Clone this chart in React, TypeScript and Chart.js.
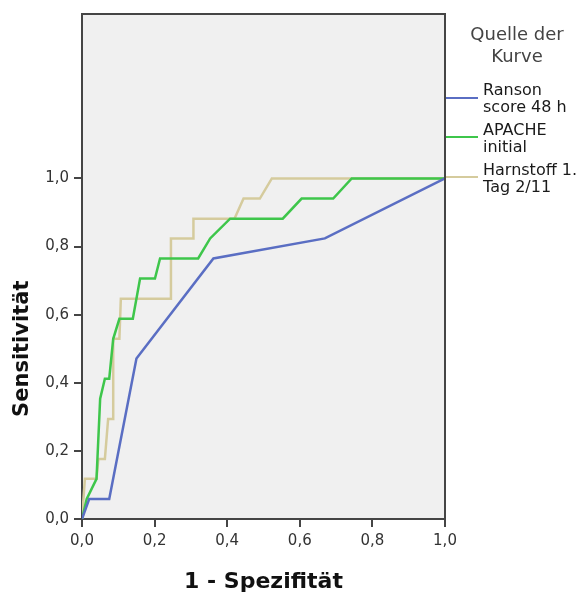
import React, { useEffect, useRef } from "react";
import { Chart, registerables } from "chart.js";

Chart.register(...registerables);

// ---- Data ----
const ransonX = [0, 0.02, 0.075, 0.15, 0.362, 0.669, 1.0];
const ransonY = [0, 0.059, 0.059, 0.471, 0.765, 0.824, 1.0];

const apacheX = [0, 0.013, 0.04, 0.05, 0.063, 0.075, 0.086, 0.103, 0.14, 0.16, 0.201, 0.215, 0.32, 0.353, 0.408, 0.553, 0.605, 0.692, 0.743, 1.0];
const apacheY = [0, 0.059, 0.118, 0.353, 0.412, 0.412, 0.529, 0.588, 0.588, 0.706, 0.706, 0.765, 0.765, 0.824, 0.882, 0.882, 0.941, 0.941, 1.0, 1.0];

const harnX = [0, 0.008, 0.04, 0.045, 0.063, 0.072, 0.086, 0.086, 0.103, 0.107, 0.245, 0.245, 0.307, 0.307, 0.42, 0.445, 0.49, 0.523, 1.0];
const harnY = [0, 0.118, 0.118, 0.176, 0.176, 0.294, 0.294, 0.529, 0.529, 0.647, 0.647, 0.824, 0.824, 0.882, 0.882, 0.941, 0.941, 1.0, 1.0];

const seriesNames = [["Ranson", "score 48 h"], ["APACHE", "initial"], ["Harnstoff 1.", "Tag 2/11"]];
const seriesColors = ["#5a6ec3", "#3ec64b", "#d5cb9d"];
const legendTitle = ["Quelle der", "Kurve"];
const tickValues = [0, 0.2, 0.4, 0.6, 0.8, 1.0];
const xTitle = "1 - Spezifität";
const yTitle = "Sensitivität";
const yMax = 1.483;

const toPts = (xs: number[], ys: number[]) => xs.map((x, i) => ({ x, y: ys[i] }));
const fmt = (v: number) => Number(v).toFixed(1).replace(".", ",");

const AXIS = "#454545";

const decorPlugin = {
  id: "decor",
  beforeDraw(chart: any) {
    const { ctx, chartArea: a } = chart;
    ctx.save();
    ctx.fillStyle = "#f0f0f0";
    ctx.fillRect(a.left, a.top, a.right - a.left, a.bottom - a.top);
    ctx.restore();
  },
  afterDraw(chart: any) {
    const { ctx, chartArea: a, scales } = chart;
    ctx.save();
    // top & right frame
    ctx.strokeStyle = AXIS;
    ctx.lineWidth = 2;
    ctx.beginPath();
    ctx.moveTo(a.left, a.top);
    ctx.lineTo(a.right, a.top);
    ctx.lineTo(a.right, a.bottom);
    ctx.stroke();

    // axis titles
    ctx.fillStyle = "#111";
    ctx.font = "bold 22px 'DejaVu Sans'";
    ctx.textAlign = "center";
    ctx.textBaseline = "alphabetic";
    ctx.fillText(xTitle, (a.left + a.right) / 2, 588);

    const y0 = scales.y.getPixelForValue(0);
    const y1 = scales.y.getPixelForValue(1);
    ctx.save();
    ctx.translate(23, (y0 + y1) / 2);
    ctx.rotate(-Math.PI / 2);
    ctx.font = "bold 21px 'DejaVu Sans'";
    ctx.textBaseline = "middle";
    ctx.fillText(yTitle, 0, 0);
    ctx.restore();

    // legend title
    ctx.fillStyle = "#444";
    ctx.font = "18px 'DejaVu Sans'";
    ctx.textAlign = "center";
    ctx.textBaseline = "middle";
    ctx.fillText(legendTitle[0], 517, 35);
    ctx.fillText(legendTitle[1], 517, 57);

    // legend items
    const lineY = [98, 137, 177];
    const textY = [[91, 108], [131, 148], [171, 188]];
    ctx.textAlign = "left";
    ctx.font = "16px 'DejaVu Sans'";
    for (let i = 0; i < seriesNames.length; i++) {
      ctx.strokeStyle = seriesColors[i];
      ctx.lineWidth = 2;
      ctx.beginPath();
      ctx.moveTo(a.right + 1, lineY[i]);
      ctx.lineTo(478, lineY[i]);
      ctx.stroke();
      ctx.fillStyle = "#1a1a1a";
      ctx.fillText(seriesNames[i][0], 483, textY[i][0]);
      ctx.fillText(seriesNames[i][1], 483, textY[i][1]);
    }
    ctx.restore();
  },
};

export default function App() {
  const ref = useRef<HTMLCanvasElement | null>(null);

  useEffect(() => {
    if (!ref.current) return;
    const mk = (xs: number[], ys: number[], i: number) => ({
      label: seriesNames[i].join(" "),
      data: toPts(xs, ys),
      borderColor: seriesColors[i],
      backgroundColor: seriesColors[i],
      borderWidth: 2.5,
      pointRadius: 0,
      showLine: true,
      fill: false,
      tension: 0,
    });
    const chart = new Chart(ref.current, {
      type: "scatter",
      data: {
        datasets: [mk(ransonX, ransonY, 0), mk(apacheX, apacheY, 1), mk(harnX, harnY, 2)],
      },
      options: {
        responsive: false,
        animation: false,
        layout: { padding: { top: 12, right: 142, left: 0, bottom: 0 } },
        plugins: { legend: { display: false }, tooltip: { enabled: false } },
        scales: {
          x: {
            type: "linear",
            min: 0,
            max: 1,
            afterFit: (s: any) => { s.height = 75; },
            afterBuildTicks: (s: any) => { s.ticks = tickValues.map((v) => ({ value: v })); },
            ticks: {
              callback: (v: any) => fmt(v),
              color: "#333",
              font: { family: "'DejaVu Sans'", size: 15 },
              padding: 5,
              maxRotation: 0,
            },
            grid: { drawOnChartArea: false, drawTicks: true, tickLength: 8, color: AXIS, lineWidth: 2 },
            border: { display: true, color: AXIS, width: 2 },
          },
          y: {
            type: "linear",
            min: 0,
            max: yMax,
            afterFit: (s: any) => { s.width = 82; },
            afterBuildTicks: (s: any) => { s.ticks = tickValues.map((v) => ({ value: v })); },
            ticks: {
              callback: (v: any) => fmt(v),
              color: "#333",
              font: { family: "'DejaVu Sans'", size: 15 },
              padding: 5,
            },
            grid: { drawOnChartArea: false, drawTicks: true, tickLength: 8, color: AXIS, lineWidth: 2 },
            border: { display: true, color: AXIS, width: 2 },
          },
        },
      },
      plugins: [decorPlugin],
    } as any);
    return () => chart.destroy();
  }, []);

  return (
    <div style={{ position: "fixed", left: 0, top: 0, width: 587, height: 594, background: "#fff" }}>
      <canvas ref={ref} width={587} height={594} style={{ display: "block", width: 587, height: 594 }} />
    </div>
  );
}
